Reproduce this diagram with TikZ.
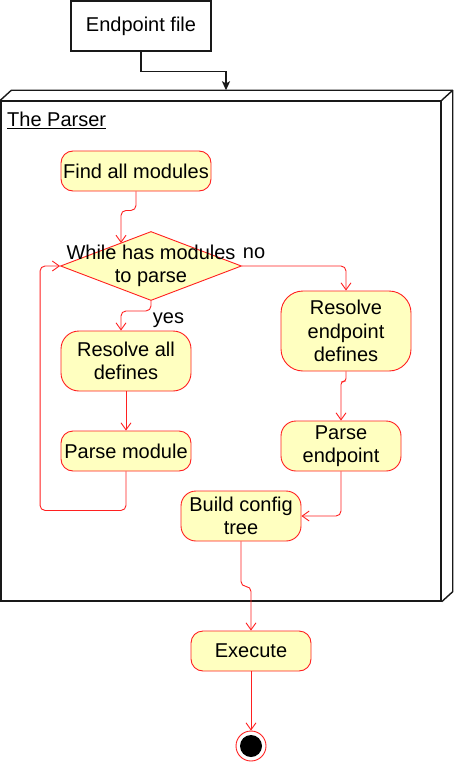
\documentclass[tikz,border=0pt]{standalone}
\usepackage{fontspec}
\setmainfont{Liberation Sans}
\usetikzlibrary{arrows.meta,shapes.geometric,calc}
\definecolor{actfill}{HTML}{FFFFC0}
\definecolor{actline}{HTML}{FF2020}
\begin{document}
\begin{tikzpicture}[x=1pt,y=-1pt,font=\fontsize{20}{23.5}\selectfont,
  act/.style={draw=actline, fill=actfill, line width=0.9pt, align=center, inner sep=0pt},
  flow/.style={draw=actline, line width=0.9pt, -{Straight Barb[length=7pt,width=10pt]}, rounded corners=5pt},
  blk/.style={draw=black!90, line width=1.4pt},
  lbl/.style={inner sep=0pt}]
\useasboundingbox (0,0) rectangle (453,762);
% endpoint file
\node[blk, fill=white, minimum width=140pt, minimum height=50pt] (ef) at (141,26) {\raisebox{-1.5pt}{Endpoint file}};
% parser container (3D box)
\node[blk, fill=white, minimum width=440pt, minimum height=500pt] (parser) at (221,351) {};
\draw[blk, line join=round] (parser.north west) -- ++(11,-10) -- ($(parser.north east)+(11,-10)$) -- ($(parser.south east)+(11,-10)$) -- (parser.south east);
\draw[blk] (parser.north east) -- ++(11,-10);
\coordinate (ptop) at ($(parser.north)+(5,-10)$);
\node[anchor=west, lbl] (title) at (7,120) {\underline{The Parser}};
\draw[blk, -{Stealth[length=9pt,width=8pt,inset=2pt]}] (ef.south) -- ++(0,20) -| (ptop);
% activities
\node[act, rounded corners=12pt, minimum width=150pt, minimum height=40pt] (find) at (136,171) {Find all modules};
\node[diamond, draw=actline, fill=actfill, line width=0.9pt, inner sep=0pt, minimum width=181pt, minimum height=69pt] (dec) at (151,266) {};
\node[align=center, lbl] (dectext) at (151,266) {While has modules\\to parse};
\node[act, rounded corners=18pt, minimum width=130pt, minimum height=60pt] (resall) at (126,361) {Resolve all\\defines};
\node[act, rounded corners=12pt, minimum width=130pt, minimum height=40pt] (parsemod) at (126,451) {Parse module};
\node[act, rounded corners=22pt, minimum width=130pt, minimum height=80pt] (resend) at (346,331) {Resolve\\endpoint\\defines};
\node[act, rounded corners=15pt, minimum width=120pt, minimum height=50pt] (parseend) at (341,446) {Parse\\endpoint};
\node[act, rounded corners=15pt, minimum width=120pt, minimum height=50pt] (build) at (241,516) {Build config\\tree};
\node[act, rounded corners=12pt, minimum width=120pt, minimum height=40pt] (exec) at (251,651) {Execute};
\node[circle, draw=actline, fill=white, line width=0.9pt, minimum size=30pt, inner sep=0pt] (final) at (251,746) {};
\node[circle, fill=black, minimum size=22pt, inner sep=0pt] (finalin) at (final.center) {};
% labels
\node[lbl] (yes) at (168.5,320) {yes};
\node[lbl] (no) at (254,253) {no};
% connectors
\coordinate (decin) at (121,243);
\draw[flow] (find.south) -- ++(0,19) -| (decin);
\draw[flow] (dec.south) -- ++(0,10) -| ($(resall.north)+(-5,0)$);
\draw[flow] (dec.east) -| (resend.north);
\draw[flow] (resall.south) -- (parsemod.north);
\draw[flow] (parsemod.south) -- ++(0,39) -| ($(dec.west)+(-20,0)$) -- (dec.west);
\draw[flow, rounded corners=3pt] (resend.south) -- ++(0,10) -| (parseend.north);
\draw[flow] (parseend.south) |- (build.east);
\draw[flow] (build.south) -- ++(0,45) -| (exec.north);
\draw[flow] (exec.south) -- (final.north);
\end{tikzpicture}
\end{document}
